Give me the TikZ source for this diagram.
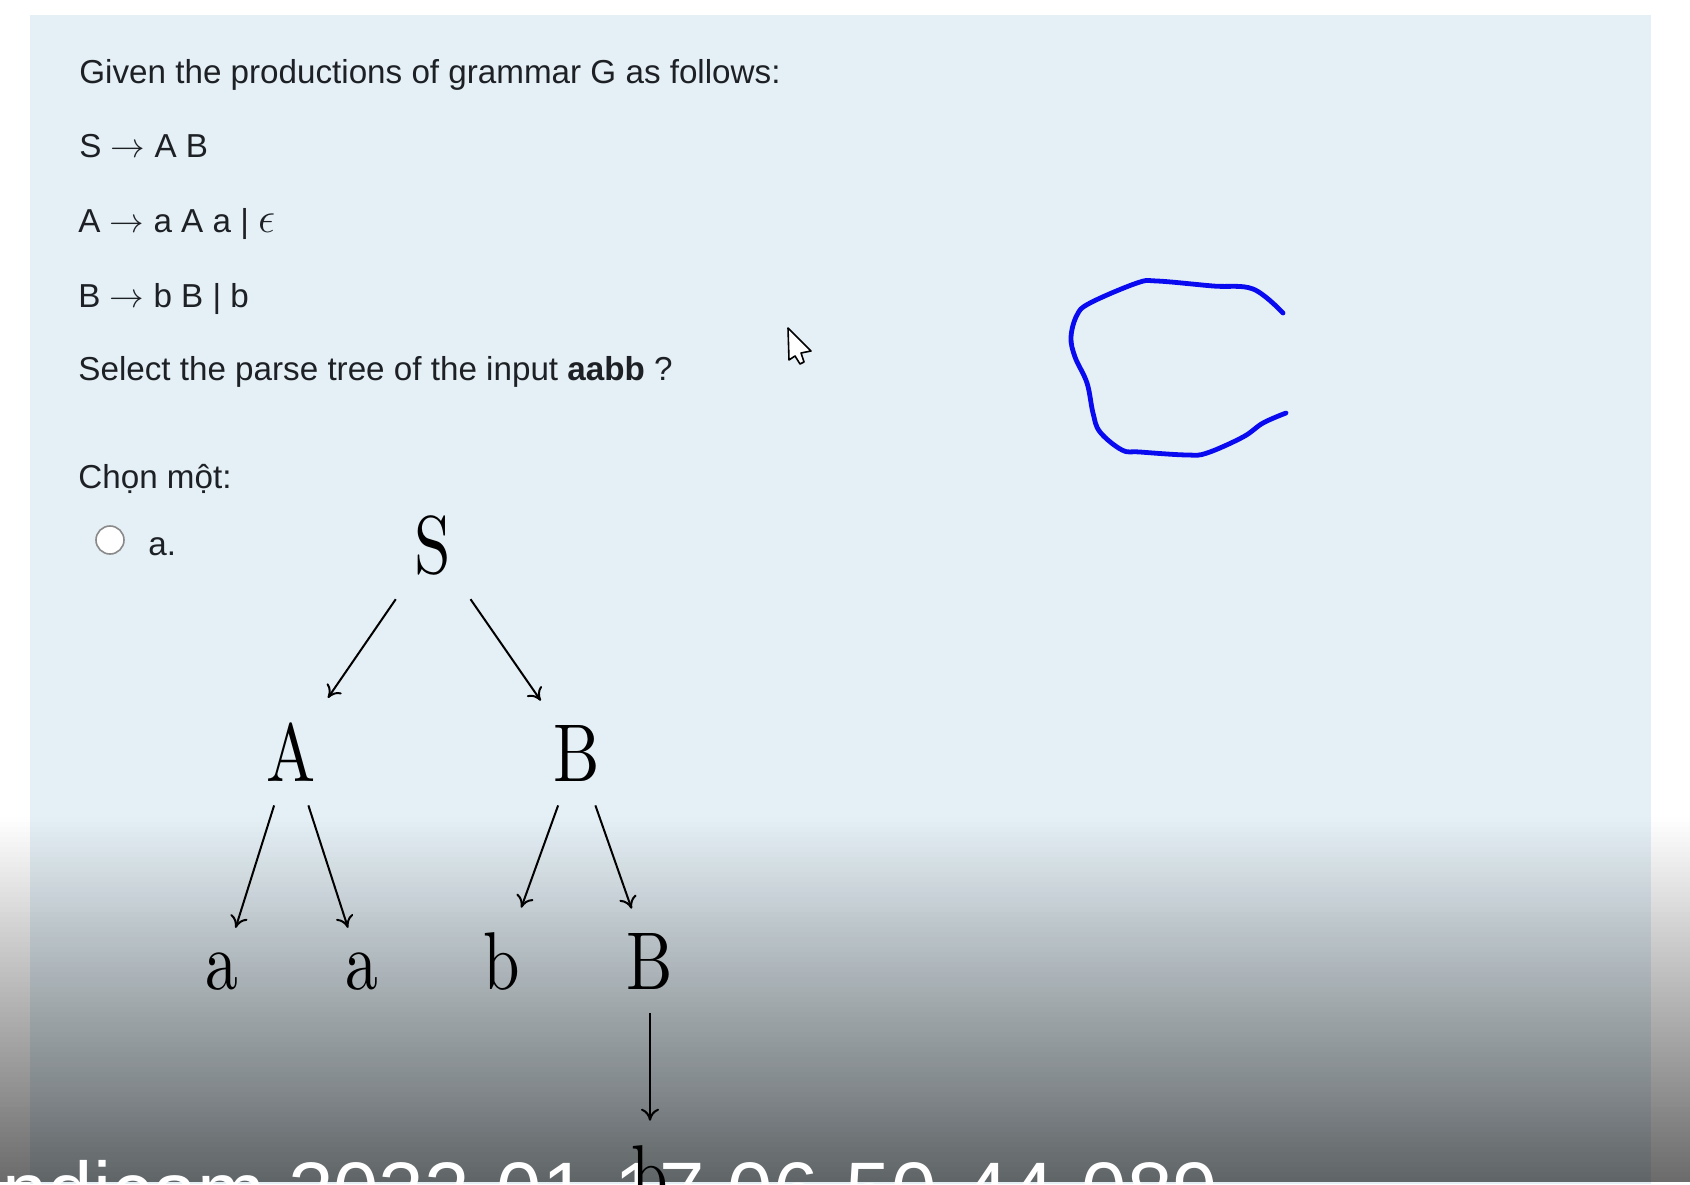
\documentclass[tikz,border=0pt]{standalone}
\usepackage{fontspec}
\setsansfont{Liberation Sans}
\newfontfamily\treefont{lmroman10-regular.otf}
\usepackage{tikz}
\usetikzlibrary{arrows.meta}
\definecolor{panelblue}{HTML}{E5F0F6}
\definecolor{inkblue}{HTML}{0A0AF0}
\definecolor{qtextcol}{HTML}{1D2125}
\definecolor{radiogray}{HTML}{8A8A8A}
\newcommand{\narrowtext}[1]{\scalebox{0.8}[1]{#1}}
\tikzset{
	qline/.style={
			anchor=base west,
			inner sep=0pt,
			text=qtextcol,
			font=\sffamily\fontsize{16.6}{20}\selectfont
		},
	treenode/.style={
			anchor=base,
			inner sep=12pt,
			font=\treefont\fontsize{41}{41}\selectfont
		},
	treeedge/.style={
			->,
			line width=1pt
		},
	stampnode/.style={
			anchor=base west,
			inner sep=0pt,
			text=white,
			font=\sffamily\fontsize{40.8}{41}\selectfont
		}
}

\begin{document}
\begin{tikzpicture}[x=0.5pt, y=-0.5pt, >={Computer Modern Rightarrow[length=6pt,width=9pt]}]
\clip (0,0) rectangle (1690,1184);
\fill[white] (0,0) rectangle (1690,1184);
\fill[panelblue] (30,15) rectangle (1651,1184);

% dark band at the bottom
\foreach \i in {0,...,72}{
	\pgfmathsetmacro{\op}{0.58*(\i+0.5)/73}
	\fill[black, opacity=\op] (0,817+5*\i) rectangle (1690,822+5*\i);
}
\node (stamp) [stampnode] at (2,1219) {ndicam 2022-01-17 06-50-44-089};

% question text
\node (given) [qline] at (79,83) {Given the productions of grammar G as follows:};
\node (prodS) [qline] at (79,157) {S $\rightarrow$ A B};
\node (prodA) [qline] at (78,232) {A $\rightarrow$ a A a | \scalebox{1.25}{$\epsilon$}};
\node (prodB) [qline] at (78,307) {B $\rightarrow$ b B | b};
\node (select) [qline] at (78,380) {Select the parse tree of the input \textbf{aabb} ?};
\node (chon) [qline] at (78,488) {Chọn một:};
\node (radio) [circle, draw=radiogray, fill=white, line width=0.8pt, minimum size=14pt, inner sep=0pt] at (110,540) {};
\node (opta) [qline] at (148,555) {a.};

% parse tree
\node (s) [treenode] at (433,573) {\narrowtext{S}};
\node (a) [treenode] at (291,781) {\narrowtext{A}};
\node (b) [treenode] at (577,781) {\narrowtext{B}};
\node (a1) [treenode] at (222,989) {\narrowtext{a}};
\node (a2) [treenode] at (362,989) {\narrowtext{a}};
\node (b1) [treenode] at (502,989) {\narrowtext{b}};
\node (b2) [treenode] at (650,989) {\narrowtext{B}};
\node (b3) [treenode] at (650,1202) {\narrowtext{b}};

\draw[treeedge] (s) -- (a);
\draw[treeedge] (s) -- (b);
\draw[treeedge] (a) -- (a1);
\draw[treeedge] (a) -- (a2);
\draw[treeedge] (b) -- (b1);
\draw[treeedge] (b) -- (b2);
\draw[treeedge] (b2) -- (b3);

% pointer
\draw[fill=white, line width=0.8pt, line join=round] (788,328) -- (789,360) -- (795,356) -- (800,364) -- (804,362) -- (801,353) -- (811,351) -- cycle;

% pen stroke
\draw[inkblue, line width=2.4pt, line cap=round, line join=round] plot[smooth, tension=0.6] coordinates {
	(1283,313) (1253,289) (1213,286) (1157,281) (1137,283) (1090,303) (1077,315)
	(1071,337) (1075,357) (1087,383) (1093,413) (1100,432) (1122,450) (1140,452)
	(1187,455) (1207,453) (1243,437) (1263,423) (1286,413)};
\end{tikzpicture}
\end{document}
